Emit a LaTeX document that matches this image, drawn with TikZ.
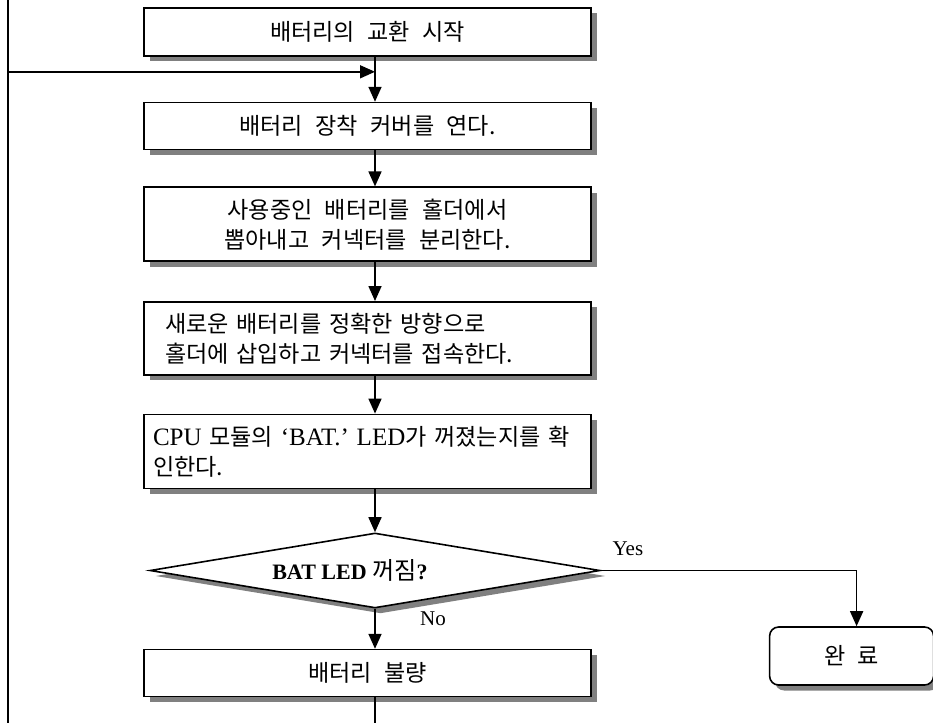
\documentclass[tikz,border=0pt]{standalone}
\usepackage{fontspec}
\setmainfont{Liberation Serif}
\newfontfamily\kor{Noto Sans CJK KR}[Scale=1.1, WordSpace=2.4]
\usepackage{tikz}
\usetikzlibrary{positioning}
\usetikzlibrary{shapes.geometric,arrows.meta,shadows}
\tikzstyle{block} = [rectangle, draw, line width=1.6pt, fill=white,
minimum width=447pt, align=center, font=\kor\fontsize{21}{30}\selectfont,
drop shadow={shadow xshift=5.5pt, shadow yshift=-5.5pt, fill=black!50, opacity=1}]
\tikzstyle{decision} = [diamond, draw, line width=1.6pt, fill=white, shape aspect=6,
minimum width=450pt, minimum height=75pt, inner sep=0pt,
drop shadow={shadow xshift=5.5pt, shadow yshift=-5.5pt, fill=black!50, opacity=1}]
\tikzstyle{finish} = [rectangle, draw, line width=1.6pt, fill=white, rounded corners=9pt,
minimum width=164pt, minimum height=58pt, font=\kor\fontsize{21}{30}\selectfont,
drop shadow={shadow xshift=5.5pt, shadow yshift=-5.5pt, fill=black!50, opacity=1}]
\tikzstyle{line} = [draw, line width=1.6pt, -{Triangle[width=13pt,length=15pt]}]
\newcommand{\lat}[1]{{\rmfamily\fontsize{25}{30}\selectfont #1}}
\begin{document}
\begin{tikzpicture}[font=\fontsize{21}{30}\selectfont]
  \useasboundingbox (0,0) rectangle (933pt,-722pt);
  \clip (0,0) rectangle (933pt,-722pt);

    % Place nodes
    \node [block, minimum height=48pt] (start) at (367.5pt,-32pt) {배터리의 교환 시작};
    \node [block, minimum height=47pt, below=45pt of start] (cover) {배터리 장착 커버를 연다.};
    \node [block, minimum height=74pt, below=36pt of cover] (remove) {사용중인 배터리를 홀더에서\\뽑아내고 커넥터를 분리한다.};
    \node [block, minimum height=73pt, below=39pt of remove, align=left, inner xsep=21pt, text width=405pt] (insert) {새로운 배터리를 정확한 방향으로\\홀더에 삽입하고 커넥터를 접속한다.};
    \node [block, minimum height=74pt, below=38pt of insert, align=left, inner xsep=9pt, text width=429pt] (check) {\lat{CPU} 모듈의 \lat{‘BAT.’ LED}가 꺼졌는지를 확\\인한다.};
    \node [decision, below=43pt of check, xshift=7.5pt] (led) {\textbf{\fontsize{22}{30}\selectfont BAT LED {\kor\mdseries 꺼짐}?}\hspace*{50pt}};
    \node [block, minimum height=47pt, below=40pt of led, xshift=-7.5pt] (bad) {배터리 불량};
    \node [finish, right=168pt of led, yshift=-85.5pt] (done) {완 료};
    \coordinate [yshift=-15pt] (join) at (start.south -| led.north);
    \coordinate (edge) at (8pt,0pt);
    % edges
    \path [line] (start.south -| led.north) -- (cover.north -| led.north);
    \path [line] (cover.south -| led.north) -- (remove.north -| led.north);
    \path [line] (remove.south -| led.north) -- (insert.north -| led.north);
    \path [line] (insert.south -| led.north) -- (check.north -| led.north);
    \path [line] (check.south -| led.north) -- (led.north);
    \path [line] (led.east) -| node[pos=0.053, above=11pt] {Yes} ([xshift=5pt]done.north);
    \path [line] (led.south) -- node[pos=0.25, right=41pt] {No} (bad.north -| led.south);
    \path [line] (bad.south -| led.north) -- ++(0,-60pt) -| (edge) |- (join);
\end{tikzpicture}
\end{document}
